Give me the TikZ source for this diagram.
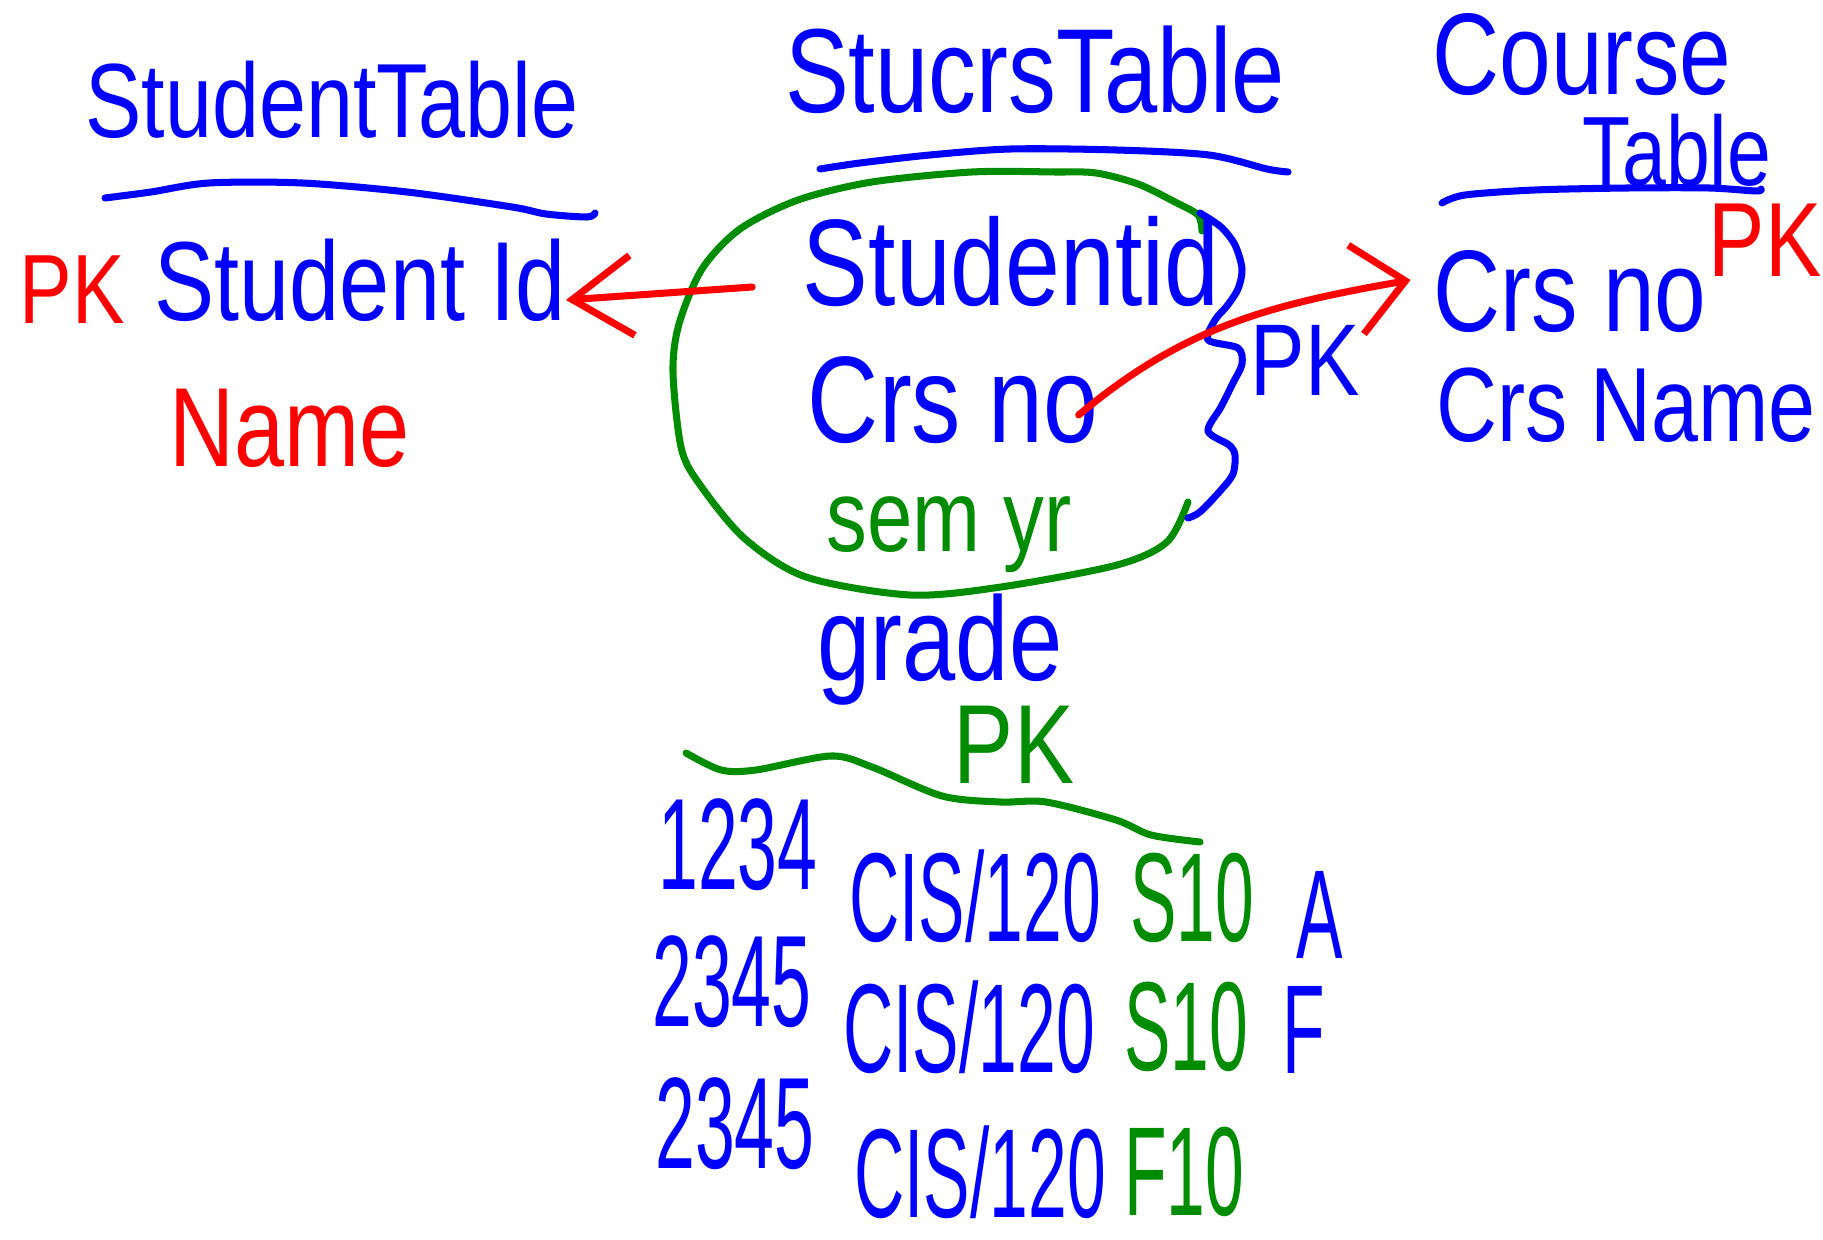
\documentclass[tikz,border=0pt]{standalone}
\usepackage{fontspec}
\newfontfamily\handfont[FakeStretch=0.8]{Liberation Sans}
\newfontfamily\digitfont[FakeStretch=0.55]{Liberation Sans}
\usetikzlibrary{arrows.meta}
\definecolor{inkblue}{RGB}{0,0,255}
\definecolor{inkred}{RGB}{255,0,0}
\definecolor{inkgreen}{RGB}{0,140,0}

\begin{document}
\begin{tikzpicture}[x=0.01cm, y=-0.01cm,
  hand/.style={inner sep=0pt, font=\handfont\fontsize{#1}{#1}\selectfont},
  digits/.style={inner sep=0pt, font=\digitfont\fontsize{#1}{#1}\selectfont},
  stroke/.style={line width=2pt, line cap=round, line join=round}]
\useasboundingbox (0,0) rectangle (1823,1240);
% student table
\node[hand=30, text=inkblue] (sttitle) at (332,100) {StudentTable};
\draw[stroke, inkblue] plot[smooth] coordinates {(105,198) (151,192) (209,183) (302,183) (407,192) (512,207) (546,214) (587,217) (595,213)};
\node[hand=28, text=inkred] (stpk) at (72,290) {PK};
\node[hand=32, text=inkblue] (stid) at (360,280) {Student Id};
\node[hand=32, text=inkred] (stname) at (290,428) {Name};
% stucrs table
\node[hand=34, text=inkblue] (sctitle) at (1035,70) {StucrsTable};
\draw[stroke, inkblue] plot[smooth] coordinates {(820,169) (860,163) (930,155) (1011,149) (1116,150) (1209,155) (1267,169) (1288,172)};
\draw[stroke, inkgreen] plot[smooth] coordinates {(1202,231) (1198,215) (1175,202) (1138,184) (1096,173) (1055,172) (972,172) (872,182) (798,200) (740,229) (702,269) (679,324) (673,372) (681,447) (698,482) (744,538) (806,577) (910,595) (1001,587) (1117,565) (1167,542) (1188,502)};
\node[hand=35, text=inkblue] (sid) at (1011,262) {Studentid};
\node[hand=35, text=inkblue] (cno) at (953,400) {Crs no};
\node[hand=29, text=inkgreen] (semyr) at (949,535) {sem yr};
\node[hand=34, text=inkblue] (grade) at (940,650) {grade};
\draw[stroke, inkblue] plot[smooth] coordinates {(1200,213) (1221,227) (1235,245) (1242,269) (1238,289) (1227,306) (1215,320) (1208,340) (1238,348) (1242,364) (1233,383) (1221,407) (1208,431) (1229,445) (1235,455) (1233,474) (1221,490) (1200,512) (1188,518)};
\node[hand=29, text=inkblue] (bpk) at (1305,360) {PK};
\node[hand=32, text=inkgreen] (gpk) at (1014,745) {PK};
\draw[stroke, inkgreen] plot[smooth] coordinates {(686,753) (721,770) (756,770) (831,756) (872,767) (942,796) (1000,802) (1046,802) (1116,820) (1151,835) (1200,842)};
% course table
\node[hand=33, text=inkblue] (cotitle) at (1582,55) {Course};
\node[hand=28, text=inkblue] (cotable) at (1677,150) {Table};
\draw[stroke, inkblue] plot[smooth] coordinates {(1442,203) (1465,195) (1535,190) (1628,188) (1709,188) (1756,191) (1761,189)};
\node[hand=30, text=inkred] (copk) at (1765,240) {PK};
\node[hand=33, text=inkblue] (rcno) at (1570,292) {Crs no};
\node[hand=30, text=inkblue] (rcname) at (1626,405) {Crs Name};
% links
\draw[stroke, inkred, -{Straight Barb[length=6mm,width=8mm]}] ([xshift=-5mm,yshift=-2.5mm]sid.west) -- ([yshift=-2mm]stid.east);
\draw[stroke, inkred, -{Straight Barb[length=5mm,width=9mm]}] ([xshift=-2mm,yshift=-1.5mm]cno.east) to[out=40, in=190] ([xshift=-2.2mm,yshift=1.2mm]rcno.west);
% rows
\node[digits=37, text=inkblue] (r1id) at (738,845) {1234};
\node[digits=36, text=inkblue] (r1crs) at (975,896) {CIS/120};
\node[digits=36, text=inkgreen] (r1sem) at (1192,898) {S10};
\node[digits=36, text=inkblue] (r1grd) at (1320,915) {A};
\node[digits=37, text=inkblue] (r2id) at (732,982) {2345};
\node[digits=36, text=inkblue] (r2crs) at (969,1027) {CIS/120};
\node[digits=36, text=inkgreen] (r2sem) at (1186,1027) {S10};
\node[digits=36, text=inkblue] (r2grd) at (1304,1030) {F};
\node[digits=37, text=inkblue] (r3id) at (735,1124) {2345};
\node[digits=36, text=inkblue] (r3crs) at (980,1172) {CIS/120};
\node[digits=36, text=inkgreen] (r3sem) at (1184,1172) {F10};
\end{tikzpicture}
\end{document}
